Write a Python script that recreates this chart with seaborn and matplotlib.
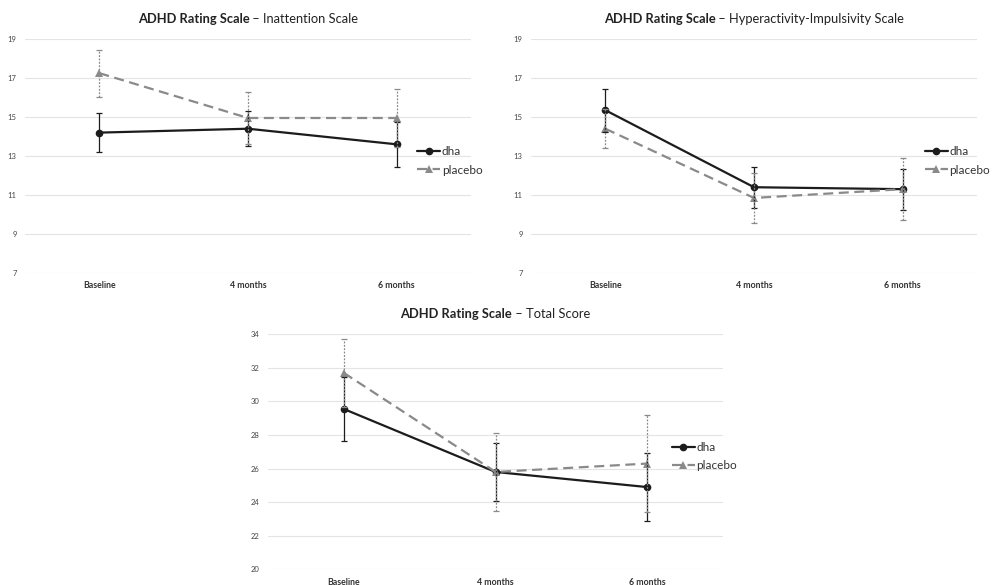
import matplotlib
matplotlib.use("Agg")
import matplotlib.pyplot as plt
from matplotlib.offsetbox import TextArea, HPacker, AnnotationBbox
import seaborn as sns
import pandas as pd
import numpy as np

categories = ["Baseline", "4 months", "6 months"]

inatt_dha = [14.2, 14.4, 13.6]
inatt_dha_err = [1.0, 0.9, 1.15]
inatt_placebo = [17.25, 14.95, 14.95]
inatt_placebo_err = [1.2, 1.33, 1.5]

hyper_dha = [15.35, 11.4, 11.3]
hyper_dha_err = [1.1, 1.05, 1.05]
hyper_placebo = [14.4, 10.85, 11.3]
hyper_placebo_err = [1.0, 1.3, 1.6]

total_dha = [29.55, 25.8, 24.9]
total_dha_err = [1.9, 1.75, 2.05]
total_placebo = [31.7, 25.8, 26.3]
total_placebo_err = [2.0, 2.35, 2.9]

small_ticks = [7, 9, 11, 13, 15, 17, 19]
total_ticks = [20, 22, 24, 26, 28, 30, 32, 34]

sns.set_style("white")
plt.rcParams["font.family"] = ["Lato", "DejaVu Sans"]

DHA_COL = "#1c1c1c"
PLA_COL = "#8a8a8a"


def panel(ax, title, dha, dha_err, pla, pla_err, ticks, leg_x):
    x = np.arange(len(categories))
    df = pd.DataFrame({
        "x": np.concatenate([x, x]),
        "score": dha + pla,
        "group": ["dha"] * len(x) + ["placebo"] * len(x),
    })
    sns.lineplot(data=df, x="x", y="score", hue="group", style="group",
                 palette={"dha": DHA_COL, "placebo": PLA_COL},
                 dashes={"dha": "", "placebo": (4.5, 2.5)},
                 markers={"dha": "o", "placebo": "^"},
                 markersize=5.5, markeredgewidth=0, linewidth=1.6, ax=ax)
    ax.errorbar(x, dha, yerr=dha_err, fmt="none", ecolor=DHA_COL,
                elinewidth=0.9, capsize=2.5, capthick=0.9, zorder=3)
    eb = ax.errorbar(x, pla, yerr=pla_err, fmt="none", ecolor=PLA_COL,
                     elinewidth=0.9, capsize=2.5, capthick=0.9, zorder=3)
    for c in eb[2]:
        c.set_linestyle((0, (1.5, 1.2)))

    ax.set_xlim(-0.5, len(categories) - 0.5)
    ax.set_ylim(ticks[0], ticks[-1])
    ax.set_yticks(ticks)
    ax.set_xticks(x)
    ax.set_xticklabels(categories, fontsize=6.3, fontweight="bold", color="#333333")
    ax.tick_params(axis="y", labelsize=5.5, colors="#444444", length=0, pad=6)
    ax.tick_params(axis="x", length=0, pad=6)
    ax.set_xlabel("")
    ax.set_ylabel("")
    ax.grid(axis="y", color="#e4e4e4", linewidth=0.8)
    ax.set_axisbelow(True)
    for s in ax.spines.values():
        s.set_visible(False)

    ax.legend(loc="center left", bbox_to_anchor=(leg_x, 0.48), frameon=False,
              fontsize=8.5, handlelength=1.9, handletextpad=0.15,
              labelspacing=0.65, borderpad=0, borderaxespad=0,
              labelcolor="#333333")

    bold, rest = title
    box = HPacker(children=[
        TextArea(bold, textprops=dict(fontsize=9.3, fontweight="bold", color="#222222")),
        TextArea(" \u2013 " + rest, textprops=dict(fontsize=9.3, color="#222222")),
    ], align="baseline", pad=0, sep=0)
    ab = AnnotationBbox(box, (0.5, 1.0), xycoords="axes fraction",
                        xybox=(0, 10), boxcoords="offset points",
                        box_alignment=(0.5, 0), frameon=False)
    ax.add_artist(ab)


fig = plt.figure(figsize=(9.92, 5.85), dpi=100)
ax1 = fig.add_axes([0.0252, 0.5333, 0.4496, 0.4000])
ax2 = fig.add_axes([0.5353, 0.5333, 0.4496, 0.4000])
ax3 = fig.add_axes([0.2702, 0.0268, 0.4587, 0.4017])

panel(ax1, ("ADHD Rating Scale", "Inattention Scale"),
      inatt_dha, inatt_dha_err, inatt_placebo, inatt_placebo_err, small_ticks, 0.88)
panel(ax2, ("ADHD Rating Scale", "Hyperactivity-Impulsivity Scale"),
      hyper_dha, hyper_dha_err, hyper_placebo, hyper_placebo_err, small_ticks, 0.884)
panel(ax3, ("ADHD Rating Scale", "Total Score"),
      total_dha, total_dha_err, total_placebo, total_placebo_err, total_ticks, 0.888)

fig.savefig("out.png", dpi=100)
